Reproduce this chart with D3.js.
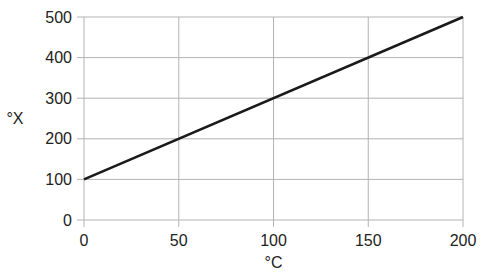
<!DOCTYPE html>
<html>
<head>
<meta charset="utf-8">
<script src="https://cdn.jsdelivr.net/npm/d3@7.9.0/dist/d3.min.js"></script>
<style>
  body { margin: 0; background: #fff; }
  svg { display: block; font-family: "Liberation Sans", Arial, sans-serif; }
</style>
</head>
<body>
<div id="chart"></div>
<script>
// data
const celsius = [0, 200];
const xValues = [100, 500];
const xTicks = [0, 50, 100, 150, 200];
const yTicks = [0, 100, 200, 300, 400, 500];

const width = 495, height = 280;
const margin = { left: 84, right: 32, top: 17, bottom: 60 };

const svg = d3.select('#chart').append('svg')
  .attr('width', width)
  .attr('height', height);

const x = d3.scaleLinear().domain([0, 200]).range([margin.left, width - margin.right]);
const y = d3.scaleLinear().domain([0, 500]).range([height - margin.bottom, margin.top]);

const gridColor = '#b3b3b3';

// gridlines
svg.append('g')
  .selectAll('line')
  .data(yTicks)
  .join('line')
  .attr('x1', margin.left - 7)
  .attr('x2', width - margin.right)
  .attr('y1', d => y(d))
  .attr('y2', d => y(d))
  .attr('stroke', gridColor)
  .attr('stroke-width', 1);

svg.append('g')
  .selectAll('line')
  .data(xTicks)
  .join('line')
  .attr('x1', d => x(d))
  .attr('x2', d => x(d))
  .attr('y1', margin.top)
  .attr('y2', height - margin.bottom + 7)
  .attr('stroke', gridColor)
  .attr('stroke-width', 1);

// tick labels
svg.append('g')
  .selectAll('text')
  .data(yTicks)
  .join('text')
  .attr('x', margin.left - 12)
  .attr('y', d => y(d))
  .attr('dy', '0.35em')
  .attr('text-anchor', 'end')
  .attr('font-size', 16)
  .attr('fill', '#222')
  .text(d => d);

svg.append('g')
  .selectAll('text')
  .data(xTicks)
  .join('text')
  .attr('x', d => x(d))
  .attr('y', height - margin.bottom + 26)
  .attr('text-anchor', 'middle')
  .attr('font-size', 16)
  .attr('fill', '#222')
  .text(d => d);

// axis titles
svg.append('text')
  .attr('x', (x(0) + x(200)) / 2)
  .attr('y', 268)
  .attr('text-anchor', 'middle')
  .attr('font-size', 16)
  .attr('fill', '#222')
  .text('°C');

svg.append('text')
  .attr('x', 15)
  .attr('y', 124)
  .attr('text-anchor', 'middle')
  .attr('font-size', 16)
  .attr('fill', '#222')
  .text('°X');

// the line
const pts = celsius.map((c, i) => [c, xValues[i]]);
svg.append('path')
  .datum(pts)
  .attr('d', d3.line().x(d => x(d[0])).y(d => y(d[1])))
  .attr('fill', 'none')
  .attr('stroke', '#1a1a1a')
  .attr('stroke-width', 2.6);
</script>
</body>
</html>
